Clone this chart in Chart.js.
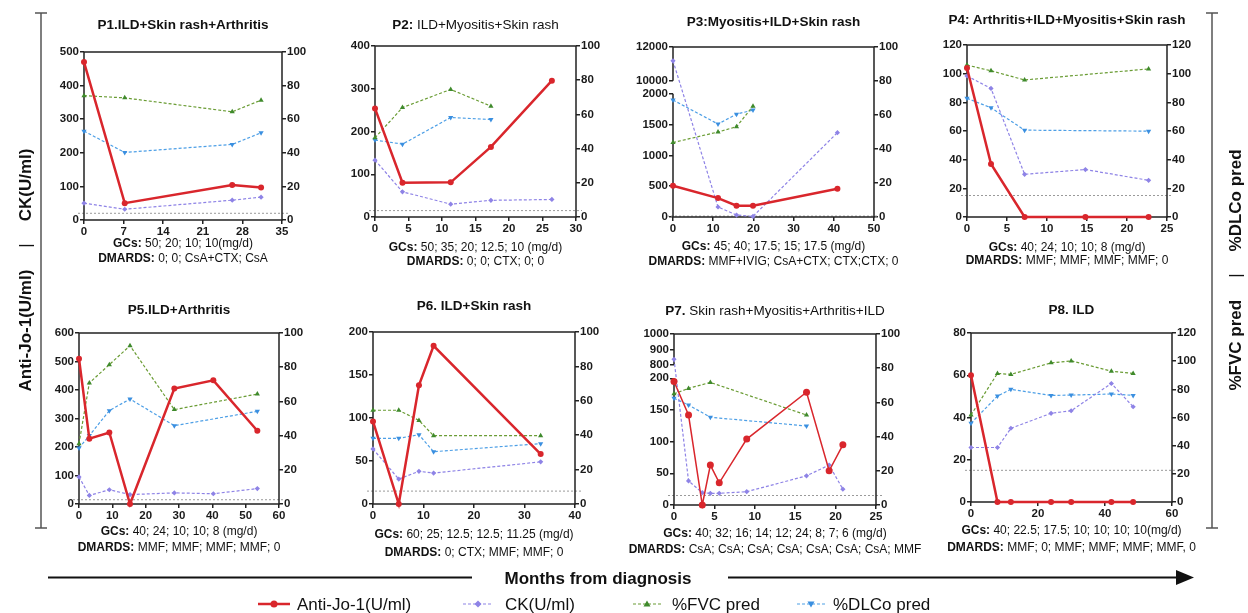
<!DOCTYPE html>
<html>
<head>
<meta charset="utf-8">
<script src="https://cdn.jsdelivr.net/npm/chart.js@4.4.0/dist/chart.umd.min.js"></script>
<style>
  body { margin: 0; width: 1248px; height: 613px; background: #fff; position: relative; overflow: hidden; }
  canvas { position: absolute; }
  #deco { position: absolute; left: 0; top: 0; pointer-events: none; font-family: "Liberation Sans", Arial, sans-serif; fill: #111; }
</style>
</head>
<body>
<svg id="deco" width="1248" height="613" xmlns="http://www.w3.org/2000/svg">
  <!-- side brackets -->
  <g stroke="#555" stroke-width="1.5">
    <line x1="41" y1="13" x2="41" y2="528"/>
    <line x1="35" y1="13" x2="47" y2="13"/>
    <line x1="35" y1="528" x2="47" y2="528"/>
    <line x1="1212" y1="13" x2="1212" y2="528"/>
    <line x1="1206" y1="13" x2="1218" y2="13"/>
    <line x1="1206" y1="528" x2="1218" y2="528"/>
  </g>
  <text transform="translate(25,270) rotate(-90)" text-anchor="middle" dominant-baseline="central" font-size="17" font-weight="bold">Anti-Jo-1(U/ml)<tspan dx="22" font-weight="normal">|</tspan><tspan dx="22">CK(U/ml)</tspan></text>
  <text transform="translate(1235,270) rotate(-90)" text-anchor="middle" dominant-baseline="central" font-size="17" font-weight="bold">%FVC pred<tspan dx="22" font-weight="normal">|</tspan><tspan dx="22">%DLCo pred</tspan></text>

  <!-- time arrow -->
  <g stroke="#111" stroke-width="2">
    <line x1="48" y1="577.5" x2="472" y2="577.5"/>
    <line x1="728" y1="577.5" x2="1180" y2="577.5"/>
  </g>
  <polygon points="1176,570 1194,577.5 1176,585" fill="#111"/>
  <text x="598" y="578" text-anchor="middle" dominant-baseline="central" font-size="17" font-weight="bold">Months from diagnosis</text>

  <!-- legend -->
  <line x1="258" y1="604" x2="290" y2="604" stroke="#d9262c" stroke-width="2.5"/>
  <circle cx="274" cy="604" r="3.5" fill="#d9262c"/>
  <text x="297" y="604" dominant-baseline="central" font-size="17">Anti-Jo-1(U/ml)</text>
  <line x1="463" y1="604" x2="493" y2="604" stroke="#8e83e6" stroke-width="1.2" stroke-dasharray="3 2"/>
  <polygon points="478,600.5 481.5,604 478,607.5 474.5,604" fill="#8e83e6"/>
  <text x="505" y="604" dominant-baseline="central" font-size="17">CK(U/ml)</text>
  <line x1="633" y1="604" x2="661" y2="604" stroke="#6a9c34" stroke-width="1.2" stroke-dasharray="3 2"/>
  <polygon points="647,600.5 650.5,606.5 643.5,606.5" fill="#3f8a2c"/>
  <text x="672" y="604" dominant-baseline="central" font-size="17">%FVC pred</text>
  <line x1="797" y1="604" x2="825" y2="604" stroke="#4d9fe6" stroke-width="1.2" stroke-dasharray="3 2"/>
  <polygon points="807.5,601.5 814.5,601.5 811,607.5" fill="#3a8fe0"/>
  <text x="833" y="604" dominant-baseline="central" font-size="17">%DLCo pred</text>
</svg>
<script>
const p1Months = [0, 7.2, 26.2, 31.3];
const p1AntiJo1 = [470, 50, 104, 97];
const p1CK = [50, 32, 59, 68];
const p1FVC = [74, 72.7, 64.4, 71.3];
const p1DLCo = [52.9, 40.2, 45, 51.9];

const p2Months = [0, 4.1, 11.3, 17.3, 26.4];
const p2AntiJo1 = [254, 80, 81, 164, 319];
const p2CK = [133, 59, 30, 39, 41];
const p2FVC = [46.3, 64, 74.6, 64.8, null];
const p2DLCo = [45, 42.6, 58.2, 57, null];

const p3Months = [0, 11.2, 15.8, 19.9, 40.9];
const p3AntiJo1 = [507, 307, 183, 183, 458];
const p3CK = [11180, 162, 32, 10, 1369];
const p3FVC = [43.8, 50, 53.1, 65.2, null];
const p3DLCo = [68.8, 54.7, 60.5, 62.9, null];

const p4Months = [0, 3, 7.2, 14.8, 22.7];
const p4AntiJo1 = [104, 37, 0, 0, 0];
const p4CK = [98.4, 89.7, 29.8, 33.1, 25.6];
const p4FVC = [106, 102, 95.6, null, 103.3];
const p4DLCo = [82.8, 76.2, 60.6, null, 59.9];

const p5Months = [0, 3.1, 9.1, 15.3, 28.6, 40.3, 53.5];
const p5AntiJo1 = [510, 229, 251, 0, 405, 434, 257];
const p5CK = [95, 30, 50, 33, 39, 36, 54];
const p5FVC = [35.3, 70.8, 81.5, 92.6, 55.2, null, 64.3];
const p5DLCo = [32.7, 40, 54.6, 61.4, 45.8, null, 54.2];

const p6Months = [0, 5.1, 9.1, 12, 33.2];
const p6AntiJo1 = [96, 0, 138, 184, 58];
const p6CK = [64, 29, 38, 36, 49];
const p6FVC = [54.5, 54.5, 48.6, 39.7, 39.7];
const p6DLCo = [38.2, 38.2, 40.3, 30.4, 35.1];

const p7Months = [0, 1.8, 3.5, 4.5, 5.6, 9, 16.4, 19.2, 20.9];
const p7AntiJo1 = [195, 142, 0, 63, 35, 104, 178, 54, 95];
const p7CK = [837, 38, 19.5, 18.4, 18.4, 21, 46, 63, 25];
const p7FVC = [65, 68.2, null, 71.7, null, null, 52.6, null, null];
const p7DLCo = [62.4, 58.5, null, 51.3, null, null, 46.2, null, null];

const p8Months = [0, 7.9, 11.9, 23.9, 29.9, 41.9, 48.4];
const p8AntiJo1 = [60, 0, 0, 0, 0, 0, 0];
const p8CK = [25.8, 25.8, 34.9, 42, 43.2, 56.1, 45.1];
const p8FVC = [61.8, 91.3, 90.6, 98.8, 100.2, 92.9, 91.3];
const p8DLCo = [55.9, 75.2, 80, 75.7, 75.9, 76.7, 75.7];

// ---- tick labels ----
const p1XTicks = [0, 7, 14, 21, 28, 35];
const p1YTicks = [0, 100, 200, 300, 400, 500];
const p1Y2Ticks = [0, 20, 40, 60, 80, 100];
const p2XTicks = [0, 5, 10, 15, 20, 25, 30];
const p2YTicks = [0, 100, 200, 300, 400];
const p2Y2Ticks = [0, 20, 40, 60, 80, 100];
const p3XTicks = [0, 10, 20, 30, 40, 50];
const p3YTicks = [0, 500, 1000, 1500, 2000, 10000, 12000];
const p3Y2Ticks = [0, 20, 40, 60, 80, 100];
const p4XTicks = [0, 5, 10, 15, 20, 25];
const p4YTicks = [0, 20, 40, 60, 80, 100, 120];
const p4Y2Ticks = [0, 20, 40, 60, 80, 100, 120];
const p5XTicks = [0, 10, 20, 30, 40, 50, 60];
const p5YTicks = [0, 100, 200, 300, 400, 500, 600];
const p5Y2Ticks = [0, 20, 40, 60, 80, 100];
const p6XTicks = [0, 10, 20, 30, 40];
const p6YTicks = [0, 50, 100, 150, 200];
const p6Y2Ticks = [0, 20, 40, 60, 80, 100];
const p7XTicks = [0, 5, 10, 15, 20, 25];
const p7YTicks = [0, 50, 100, 150, 200, 800, 900, 1000];
const p7Y2Ticks = [0, 20, 40, 60, 80, 100];
const p8XTicks = [0, 20, 40, 60];
const p8YTicks = [0, 20, 40, 60, 80];
const p8Y2Ticks = [0, 20, 40, 60, 80, 100, 120];

// dotted cutoff line (left axis units)
const cutoffLevels = [20, 15, 15, 15, 15, 15, 15, 15];

const titles = [
  ['P1.ILD+Skin rash+Arthritis', ''],
  ['P2:', ' ILD+Myositis+Skin rash'],
  ['P3:Myositis+ILD+Skin rash', ''],
  ['P4: Arthritis+ILD+Myositis+Skin rash', ''],
  ['P5.ILD+Arthritis', ''],
  ['P6. ILD+Skin rash', ''],
  ['P7.', ' Skin rash+Myositis+Arthritis+ILD'],
  ['P8. ILD', '']
];
const gcLines = [
  '50; 20; 10; 10(mg/d)', '50; 35; 20; 12.5; 10 (mg/d)', '45; 40; 17.5; 15; 17.5 (mg/d)',
  '40; 24; 10; 10; 8 (mg/d)', '40; 24; 10; 10; 8 (mg/d)', '60; 25; 12.5; 12.5; 11.25 (mg/d)',
  '40; 32; 16; 14; 12; 24; 8; 7; 6 (mg/d)', '40; 22.5; 17.5; 10; 10; 10; 10(mg/d)'
];
const dmardLines = [
  '0; 0; CsA+CTX; CsA', '0; 0; CTX; 0; 0', 'MMF+IVIG; CsA+CTX; CTX;CTX; 0',
  'MMF; MMF; MMF; MMF; 0', 'MMF; MMF; MMF; MMF; 0', '0; CTX; MMF; MMF; 0',
  'CsA; CsA; CsA; CsA; CsA; CsA; CsA; MMF', 'MMF; 0; MMF; MMF; MMF; MMF, 0'
];

// ---- layout (page pixels) ----
const boxes = [
  { l: 84, t: 52, r: 282, b: 220, titleY: 23.5, gcY: 242.5, dmY: 257.5 },
  { l: 375, t: 46, r: 576, b: 217, titleY: 23.5, gcY: 247, dmY: 260.5 },
  { l: 673, t: 47, r: 874, b: 217, titleY: 21, gcY: 246, dmY: 260.5 },
  { l: 967, t: 45, r: 1167, b: 217, titleY: 19, gcY: 246.5, dmY: 259.5 },
  { l: 79, t: 333, r: 279, b: 504, titleY: 308.5, gcY: 530.5, dmY: 546.5 },
  { l: 373, t: 332, r: 575, b: 504, titleY: 305, gcY: 534, dmY: 551.5 },
  { l: 674, t: 334, r: 876, b: 505, titleY: 310, gcY: 532.5, dmY: 549 },
  { l: 971, t: 333, r: 1172, b: 502, titleY: 308.5, gcY: 530, dmY: 546.5 }
];

const RED = '#d9262c', PURPLE = '#8e83e6', GREEN = '#6a9c34', GREEN_PT = '#3f8a2c', BLUE = '#4d9fe6', BLUE_PT = '#3a8fe0';
const AXW = 45, PADT = 12, XAXH = 22;
const FONT = "'Liberation Sans', Arial, sans-serif";

// linear scale with a gap between two value ranges (Prism-style broken axis)
class BrokenScale extends Chart.LinearScale {
  getPixelForValue(value) {
    const b = this.options.broken;
    if (value === null || value === undefined || isNaN(value)) return NaN;
    let d;
    if (value <= b.low) d = b.lowFrac * (value - this.min) / (b.low - this.min);
    else if (value >= b.high) d = 1 - b.highFrac * (this.max - value) / (this.max - b.high);
    else d = b.lowFrac + (1 - b.lowFrac - b.highFrac) * (value - b.low) / (b.high - b.low);
    return this.getPixelForDecimal(d);
  }
  getValueForPixel(pixel) {
    const b = this.options.broken;
    const d = this.getDecimalForPixel(pixel);
    if (d <= b.lowFrac) return this.min + d / b.lowFrac * (b.low - this.min);
    if (d >= 1 - b.highFrac) return this.max - (1 - d) / b.highFrac * (this.max - b.high);
    return b.low + (d - b.lowFrac) / (1 - b.lowFrac - b.highFrac) * (b.high - b.low);
  }
}
BrokenScale.id = 'broken';
BrokenScale.defaults = Chart.LinearScale.defaults;
Chart.register(BrokenScale);

const framePlugin = {
  id: 'frame',
  beforeDatasetsDraw(chart, args, opts) {
    const { ctx, chartArea: a, scales } = chart;
    ctx.save();
    // cutoff line
    const cy = scales.y.getPixelForValue(opts.cutoff);
    ctx.strokeStyle = '#9a9a9a';
    ctx.lineWidth = 1;
    ctx.setLineDash([2, 2]);
    ctx.beginPath();
    ctx.moveTo(a.left - 6, cy);
    ctx.lineTo(a.right + 6, cy);
    ctx.stroke();
    // box
    ctx.setLineDash([]);
    ctx.strokeStyle = '#222';
    ctx.lineWidth = 1.5;
    ctx.beginPath();
    const brk = scales.y.options.broken;
    if (brk) {
      ctx.moveTo(a.left, a.bottom);
      ctx.lineTo(a.left, scales.y.getPixelForValue(brk.low));
      ctx.moveTo(a.left, scales.y.getPixelForValue(brk.high));
      ctx.lineTo(a.left, a.top);
    } else {
      ctx.moveTo(a.left, a.bottom);
      ctx.lineTo(a.left, a.top);
    }
    ctx.moveTo(a.left, a.top);
    ctx.lineTo(a.right, a.top);
    ctx.lineTo(a.right, a.bottom);
    ctx.lineTo(a.left, a.bottom);
    ctx.stroke();
    ctx.restore();
  }
};

function series(months, vals) {
  return months.map((m, i) => ({ x: m, y: vals[i] }));
}

function axis(ticks, extra) {
  return Object.assign({
    type: 'linear',
    min: ticks[0],
    max: ticks[ticks.length - 1],
    afterBuildTicks: s => { s.ticks = ticks.map(v => ({ value: v })); },
    grid: { drawOnChartArea: false, tickLength: 4, color: '#222', lineWidth: 1.5 },
    border: { display: false },
    ticks: {
      font: { family: FONT, size: 11.5, weight: 'bold' }, color: '#1a1a1a',
      padding: 1, maxRotation: 0, autoSkip: false, callback: v => String(v)
    }
  }, extra);
}

function makePanel(i, months, anti, ck, fvc, dlco, xTicks, yTicks, y2Ticks, broken, redStyle) {
  const box = boxes[i];
  const cv = document.createElement('canvas');
  cv.width = box.r - box.l + 2 * AXW;
  cv.height = box.b - box.t + PADT + XAXH;
  cv.style.left = (box.l - AXW) + 'px';
  cv.style.top = (box.t - PADT) + 'px';
  document.body.insertBefore(cv, document.getElementById('deco'));

  const rs = Object.assign({ width: 2.5, radius: 3 }, redStyle);
  const yOpts = { position: 'left', afterFit: s => { s.width = AXW; } };
  if (broken) { yOpts.type = 'broken'; yOpts.broken = broken; }

  new Chart(cv, {
    type: 'line',
    data: {
      datasets: [
        { label: 'Anti-Jo-1(U/ml)', data: series(months, anti), yAxisID: 'y', borderColor: RED, backgroundColor: RED,
          borderWidth: rs.width, pointRadius: rs.radius, pointStyle: 'circle', pointBorderWidth: 0 },
        { label: 'CK(U/ml)', data: series(months, ck), yAxisID: 'y', borderColor: PURPLE, backgroundColor: PURPLE,
          borderWidth: 1.2, borderDash: [3, 2], pointRadius: 2.6, pointStyle: 'rectRot', pointBorderWidth: 0 },
        { label: '%FVC pred', data: series(months, fvc), yAxisID: 'y2', borderColor: GREEN, backgroundColor: GREEN_PT,
          borderWidth: 1.2, borderDash: [3, 2], pointRadius: 3, pointStyle: 'triangle', pointBorderWidth: 0 },
        { label: '%DLCo pred', data: series(months, dlco), yAxisID: 'y2', borderColor: BLUE, backgroundColor: BLUE_PT,
          borderWidth: 1.2, borderDash: [3, 2], pointRadius: 3, pointStyle: 'triangle', pointRotation: 180, pointBorderWidth: 0 }
      ]
    },
    options: {
      responsive: false,
      animation: false,
      events: [],
      spanGaps: true,
      elements: { line: { tension: 0, fill: false } },
      datasets: { line: { clip: false } },
      layout: { padding: { top: PADT, left: 0, right: 0, bottom: 0 }, autoPadding: false },
      plugins: { legend: { display: false }, tooltip: { enabled: false }, frame: { cutoff: cutoffLevels[i] } },
      scales: {
        x: axis(xTicks, { position: 'bottom', afterFit: s => { s.height = XAXH; } }),
        y: axis(yTicks, yOpts),
        y2: axis(y2Ticks, { position: 'right', afterFit: s => { s.width = AXW; } })
      }
    },
    plugins: [framePlugin]
  });
}

makePanel(0, p1Months, p1AntiJo1, p1CK, p1FVC, p1DLCo, p1XTicks, p1YTicks, p1Y2Ticks);
makePanel(1, p2Months, p2AntiJo1, p2CK, p2FVC, p2DLCo, p2XTicks, p2YTicks, p2Y2Ticks);
makePanel(2, p3Months, p3AntiJo1, p3CK, p3FVC, p3DLCo, p3XTicks, p3YTicks, p3Y2Ticks,
  { low: 2000, high: 10000, lowFrac: 0.725, highFrac: 0.198 });
makePanel(3, p4Months, p4AntiJo1, p4CK, p4FVC, p4DLCo, p4XTicks, p4YTicks, p4Y2Ticks);
makePanel(4, p5Months, p5AntiJo1, p5CK, p5FVC, p5DLCo, p5XTicks, p5YTicks, p5Y2Ticks);
makePanel(5, p6Months, p6AntiJo1, p6CK, p6FVC, p6DLCo, p6XTicks, p6YTicks, p6Y2Ticks);
makePanel(6, p7Months, p7AntiJo1, p7CK, p7FVC, p7DLCo, p7XTicks, p7YTicks, p7Y2Ticks,
  { low: 200, high: 800, lowFrac: 0.741, highFrac: 0.181 }, { width: 1.5, radius: 3.5 });
makePanel(7, p8Months, p8AntiJo1, p8CK, p8FVC, p8DLCo, p8XTicks, p8YTicks, p8Y2Ticks);

// panel titles and treatment lines
const svg = document.getElementById('deco');
const NS = 'http://www.w3.org/2000/svg';
function addText(x, y, size, boldPart, rest) {
  const t = document.createElementNS(NS, 'text');
  t.setAttribute('x', x);
  t.setAttribute('y', y);
  t.setAttribute('text-anchor', 'middle');
  t.setAttribute('dominant-baseline', 'central');
  t.setAttribute('font-size', size);
  const b = document.createElementNS(NS, 'tspan');
  b.setAttribute('font-weight', 'bold');
  b.textContent = boldPart;
  t.appendChild(b);
  if (rest) {
    const r = document.createElementNS(NS, 'tspan');
    r.textContent = rest;
    t.appendChild(r);
  }
  svg.appendChild(t);
}
boxes.forEach((box, i) => {
  const cx = (box.l + box.r) / 2;
  addText(cx, box.titleY, 13.5, titles[i][0], titles[i][1]);
  addText(cx, box.gcY, 12, 'GCs:', ' ' + gcLines[i]);
  addText(cx, box.dmY, 12, 'DMARDS:', ' ' + dmardLines[i]);
});
</script>
</body>
</html>
